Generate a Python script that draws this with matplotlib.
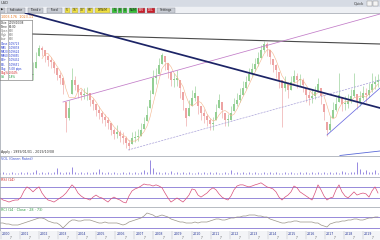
import numpy as np
import matplotlib
matplotlib.use("Agg")
import matplotlib.pyplot as plt
from matplotlib.patches import Rectangle

# ---- price bars (one slot = one bar, slot 0 is first bar right of info box)
closes = [81, 94, 108, 106, 100, 96, 94, 88, 81, 78,
          71, 38, 48, 76, 71, 64, 61, 62, 63, 56,
          52, 46, 43, 39, 36, 33, 26, 22, 24, 20,
          18, 13, 10, 18, 19, 20, 26, 32, 41, 56,
          78, 80, 91, 101, 94, 86, 76, 76, 78, 68,
          56, 38, 48, 58, 63, 50, 43, 40, 36, 32,
          32, 44, 56, 46, 36, 36, 43, 52, 56, 61,
          68, 74, 82, 87, 92, 98, 106, 112, 108, 99,
          91, 86, 76, 68, 73, 66, 74, 80, 76, 76,
          71, 61, 58, 60, 64, 72, 60, 44, 26, 32,
          46, 52, 61, 52, 52, 55, 60, 66, 54, 58,
          63, 61, 66, 72, 74, 76]
highs = [94, 104, 111, 110, 106, 101, 99, 95, 88, 84,
         78, 54, 56, 88, 80, 72, 67, 68, 69, 63,
         58, 52, 50, 45, 42, 39, 33, 28, 31, 26,
         24, 20, 16, 24, 25, 27, 33, 39, 50, 66,
         86, 88, 98, 103, 100, 93, 84, 83, 86, 76,
         64, 48, 56, 66, 70, 60, 50, 47, 42, 38,
         39, 52, 62, 54, 43, 42, 50, 58, 63, 68,
         75, 80, 88, 93, 98, 104, 111, 115, 114, 106,
         97, 92, 84, 76, 80, 74, 80, 86, 83, 82,
         78, 68, 65, 67, 70, 78, 68, 52, 34, 40,
         54, 59, 83, 59, 60, 62, 67, 83, 62, 65,
         70, 68, 73, 83, 80, 82]
lows = [76, 88, 100, 100, 94, 90, 88, 83, 76, 72,
        62, 24, 36, 62, 66, 58, 56, 57, 56, 50,
        46, 40, 37, 33, 30, 27, 21, 17, 18, 14,
        12, 8, 6, 12, 14, 15, 20, 27, 35, 48,
        62, 72, 82, 92, 86, 78, 70, 69, 70, 58,
        46, 30, 40, 50, 55, 42, 36, 33, 30, 26,
        26, 36, 48, 38, 30, 30, 36, 45, 50, 54,
        61, 67, 75, 80, 85, 90, 98, 104, 100, 92,
        84, 78, 68, 29, 65, 58, 66, 73, 68, 70,
        64, 54, 51, 53, 57, 64, 52, 36, 20, 25,
        38, 45, 54, 45, 46, 48, 53, 59, 47, 50,
        56, 54, 59, 64, 67, 69]

# ---- sub panels, one value per slot starting at slot -11 (left edge)
volume = [1, 2, 1, 1, 2, 1, 1, 2, 1, 2, 1,
          2, 4, 1, 2, 1, 2, 1, 2, 6, 2,
          1, 2, 2, 7, 2, 1, 2, 1, 2, 1,
          2, 2, 5, 2, 1, 2, 1, 2, 1, 1,
          2, 1, 2, 1, 2, 1, 2, 4, 2, 14,
          6, 2, 2, 1, 2, 1, 3, 1, 2, 1,
          2, 1, 2, 1, 1, 2, 1, 2, 1, 2,
          1, 2, 1, 1, 2, 1, 4, 1, 2, 1,
          2, 1, 2, 1, 2, 1, 1, 2, 1, 2,
          1, 2, 1, 1, 2, 1, 2, 1, 1, 2,
          1, 2, 1, 2, 1, 2, 1, 2, 1, 2,
          1, 2, 1, 3, 2, 1, 2, 2, 12, 5,
          2, 4, 2, 2, 4, 1, 2]
rsi = [31, 24, 21, 17, 21, 24, 24, 34, 55, 69, 62,
       52, 62, 69, 48, 34, 24, 21, 17, 24, 31,
       38, 48, 62, 76, 66, 48, 38, 31, 28, 24,
       34, 41, 34, 31, 24, 17, 28, 34, 28, 24,
       17, 14, 38, 55, 62, 66, 72, 79, 76, 76,
       72, 76, 72, 66, 48, 31, 17, 24, 31, 24,
       17, 28, 41, 62, 59, 41, 34, 41, 48, 59,
       66, 59, 45, 34, 28, 24, 38, 59, 72, 76,
       76, 72, 69, 72, 76, 79, 83, 76, 69, 66,
       62, 52, 34, 24, 34, 41, 52, 72, 66, 52,
       45, 38, 31, 24, 48, 76, 59, 38, 24, 31,
       34, 59, 76, 52, 38, 31, 41, 52, 41, 45,
       48, 45, 34, 55, 69, 48]
rcx = [8, 8, 7, 7, 6, 6, 6, 7, 8, 9, 10,
       11, 12, 13, 13, 12, 10, 9, 8, 8, 6,
       3, 6, 9, 11, 11, 10, 10, 11, 11, 11,
       10, 9, 8, 8, 9, 8, 8, 8, 8, 7,
       6, 7, 9, 10, 11, 12, 13, 15, 18, 17,
       16, 14, 15, 16, 15, 14, 12, 11, 10, 9,
       9, 8, 8, 8, 9, 8, 9, 9, 9, 10,
       11, 12, 12, 11, 11, 12, 13, 13, 14, 14,
       15, 15, 16, 16, 16, 15, 15, 14, 14, 12,
       11, 10, 9, 8, 8, 9, 9, 10, 10, 9,
       9, 9, 9, 9, 8, 8, 6, 5, 4, 7,
       8, 9, 9, 10, 10, 11, 11, 12, 12, 11,
       11, 12, 13, 13, 14, 14]
rsi_levels = [70, 30]
rcx_levels = [14, 3]

year_labels = ["2000", "2001", "2002", "2003", "2004", "2005", "2006",
               "2007", "2008", "2009", "2010", "2011", "2012", "2013",
               "2014", "2015", "2016", "2017", "2018", "2019"]

info_names = ["Date", "Time", "Open", "High", "Low", "Close", "MA5",
              "MA20", "MA60", "BB+", "BB-", "Chg", "Chg%", "Vol"]
info_values = ["2019/10/08", "00:00", "000", "000", "000", "1.09723",
               "1.09878", "1.09624", "1.09855", "1.09432", "1.09651",
               "5.08 pips", "-0.04%", "1.8%"]
info_colors = ["#333333", "#333333", "#777777", "#777777", "#777777",
               "#2a3fd0", "#2a3fd0", "#2a3fd0", "#2a3fd0", "#2a3fd0",
               "#2a3fd0", "#2a3fd0", "#d02020", "#1a9a3a"]

# trend lines drawn on the chart: (slots, prices)
navy_line = ([-2.5, 115.7], [143, 48])
grey_line = ([-0.3, 115.7], [122, 112])
pink_line = ([10, 115.7], [54, 142])
lav_line = ([31.7, 115.7], [6, 76])
blue_line = ([98, 115.7], [21, 68])
base_line = ([102.3, 115.7], [0.5, 5])

XL = (-11, 115.67)
fs = 2.6

fig = plt.figure(figsize=(3.8, 2.4), dpi=100)
fig.patch.set_facecolor("white")

# ---- toolbar
axh = fig.add_axes([0, 1 - 13 / 240, 1, 13 / 240])
axh.set_xlim(0, 380)
axh.set_ylim(13, 0)
axh.axis("off")
axh.add_patch(Rectangle((0, 0), 380, 6.5, color="#d6dbe4"))
axh.add_patch(Rectangle((0, 6.5), 380, 6.5, color="#eef0f4"))
axh.text(1, 3.3, "USD", fontsize=fs, va="center", color="#333333")
axh.text(354, 3.3, "Quick", fontsize=fs, va="center", color="#333333")
axh.add_patch(Rectangle((367, 1), 5, 4.5, fc="#f4f4f4", ec="#888888", lw=0.3))
axh.add_patch(Rectangle((373, 1), 5, 4.5, fc="#f4f4f4", ec="#888888", lw=0.3))
buttons = [("▶", 0, 5, "#c8ccd4"), ("Indicator", 7, 25, "#c8ccd4"),
           ("Trend ▾", 28, 43, "#c8ccd4"), ("Fixed", 47, 62, "#c8ccd4"),
           ("5'", 65, 70, "#f0e040"), ("15'", 72, 78, "#f0e040"),
           ("30'", 80, 85, "#f0e040"), ("60'", 87, 93, "#f0e040"),
           ("D/W/M", 95, 110, "#f0e040"), ("TL", 112, 117, "#38c038"),
           ("R", 118, 122, "#38c038"), ("X", 123, 127, "#38c038"),
           ("NUM", 129, 137, "#38c038"), ("LIN", 138, 145, "#c81e2a"),
           ("DEL", 147, 155, "#c81e2a"), ("Settings", 157, 175, "#c8ccd4")]
for lab, x0, x1, c in buttons:
    axh.add_patch(Rectangle((x0, 7.5), x1 - x0, 5, fc=c, ec="#8a8f99", lw=0.3))
    tc = "white" if c == "#c81e2a" else "#222222"
    axh.text((x0 + x1) / 2, 10.1, lab, fontsize=2.2, ha="center", va="center", color=tc)
axh.axhline(12.8, color="#9aa0aa", lw=0.5)

# ---- main price panel
ax = fig.add_axes([0, 84 / 240, 1, 143 / 240])
ax.set_xlim(*XL)
ax.set_ylim(0, 143)
slots = np.arange(len(closes))
c = np.array(closes, float)
h = np.array(highs, float)
l = np.array(lows, float)
o = np.clip(np.r_[c[0], c[:-1]], l, h)
up = c >= o
col = np.where(up, "#93cf93", "#eda3a3")
ax.vlines(slots, l, h, colors=col, lw=0.45, zorder=2)
ax.bar(slots, np.maximum(np.abs(c - o), 0.6), bottom=np.minimum(c, o),
       width=0.42, color=col, zorder=2)
ma = np.convolve(c, np.ones(4) / 4, mode="valid")
ax.plot(slots[3:], ma, color="#f4b48a", lw=0.4, zorder=2)

ax.plot(*grey_line, color="#4a4a4a", lw=0.8, zorder=3)
ax.plot(*navy_line, color="#1c2466", lw=1.25, zorder=4)
ax.plot(*pink_line, color="#c27cc8", lw=0.55, zorder=3)
ax.plot(*lav_line, color="#a8a0d8", lw=0.5, ls=(0, (3, 1.5)), zorder=3)
ax.plot(*blue_line, color="#6a6ae0", lw=0.55, zorder=3)
ax.plot(*base_line, color="#5a6ad8", lw=0.6, zorder=3)
ax.text(-10.8, 141.5, "1003.176  1023.11", fontsize=2.4, color="#e87820",
        va="top", zorder=6)
ax.text(-10.8, 1.5, "Apply : 1999/01/01 - 2019/10/08", fontsize=2.3,
        color="#333333", va="bottom")
ax.set_xticks([])
ax.set_yticks([])
for s in ax.spines.values():
    s.set_color("#9aa0aa")
    s.set_linewidth(0.5)

# info box
axi = fig.add_axes([0, 1 - 80 / 240, 32 / 380, 60 / 240])
axi.set_xlim(0, 32)
axi.set_ylim(60, 0)
axi.set_xticks([])
axi.set_yticks([])
axi.set_facecolor("white")
axi.set_zorder(5)
for s in axi.spines.values():
    s.set_color("#888888")
    s.set_linewidth(0.5)
axi.axvline(8, color="#888888", lw=0.4)
for k, (nm, val, tc) in enumerate(zip(info_names, info_values, info_colors)):
    yy = 2.6 + k * 4.2
    axi.text(0.6, yy, nm, fontsize=2.0, color=tc, va="center")
    axi.text(9, yy, val, fontsize=2.0, color=tc, va="center")

# ---- volume panel
sub_x = np.arange(len(volume)) - 11
axv = fig.add_axes([0, 63 / 240, 1, 21 / 240])
axv.set_xlim(*XL)
axv.set_ylim(-3, 18)
axv.vlines(sub_x, 0, volume, colors="#7a6ad8", lw=0.55)
axv.text(-10.8, 17, "VOL (Green Rated)", fontsize=2.4, color="#3a50d0", va="top")

# ---- RSI panel
rx = np.arange(len(rsi)) - 11
axr = fig.add_axes([0, 33 / 240, 1, 30 / 240])
axr.set_xlim(*XL)
axr.set_ylim(0, 103)
for lv in rsi_levels:
    axr.axhline(lv, color="#7a6ad0", lw=0.55)
axr.plot(rx, rsi, color="#d8507a", lw=0.5)
axr.text(-10.8, 101, "RSI (14)", fontsize=2.4, color="#d02020", va="top")

# ---- second oscillator
cx = np.arange(len(rcx)) - 11
axo = fig.add_axes([0, 9 / 240, 1, 24 / 240])
axo.set_xlim(*XL)
axo.set_ylim(0, 24)
for lv in rcx_levels:
    axo.axhline(lv, color="#7a6ad0", lw=0.55)
axo.plot(cx, rcx, color="#9a9488", lw=0.5)
axo.text(-10.8, 23.3, "RCI (14 · Close · 28 · 73)", fontsize=2.4,
         color="#2a9a40", va="top")

for a in (axv, axr, axo):
    a.set_xticks([])
    a.set_yticks([])
    for s in a.spines.values():
        s.set_color("#9aa0aa")
        s.set_linewidth(0.5)

# ---- date axis
axd = fig.add_axes([0, 0, 1, 9 / 240])
axd.set_xlim(0, 380)
axd.set_ylim(9, 0)
axd.axis("off")
axd.add_patch(Rectangle((0, 0), 380, 9, color="#f3f4f7"))
pos = np.linspace(2, 364, len(year_labels))
for p, yl in zip(pos, year_labels):
    axd.plot([p - 1, p - 1], [0, 8], color="#b0b4bc", lw=0.3)
    axd.text(p, 2.6, yl, fontsize=2.3, color="#2a3a9a", va="center")
    axd.text(p + 8, 6.8, "7", fontsize=2.0, color="#555555", va="center")

fig.savefig("out.png", dpi=100)
